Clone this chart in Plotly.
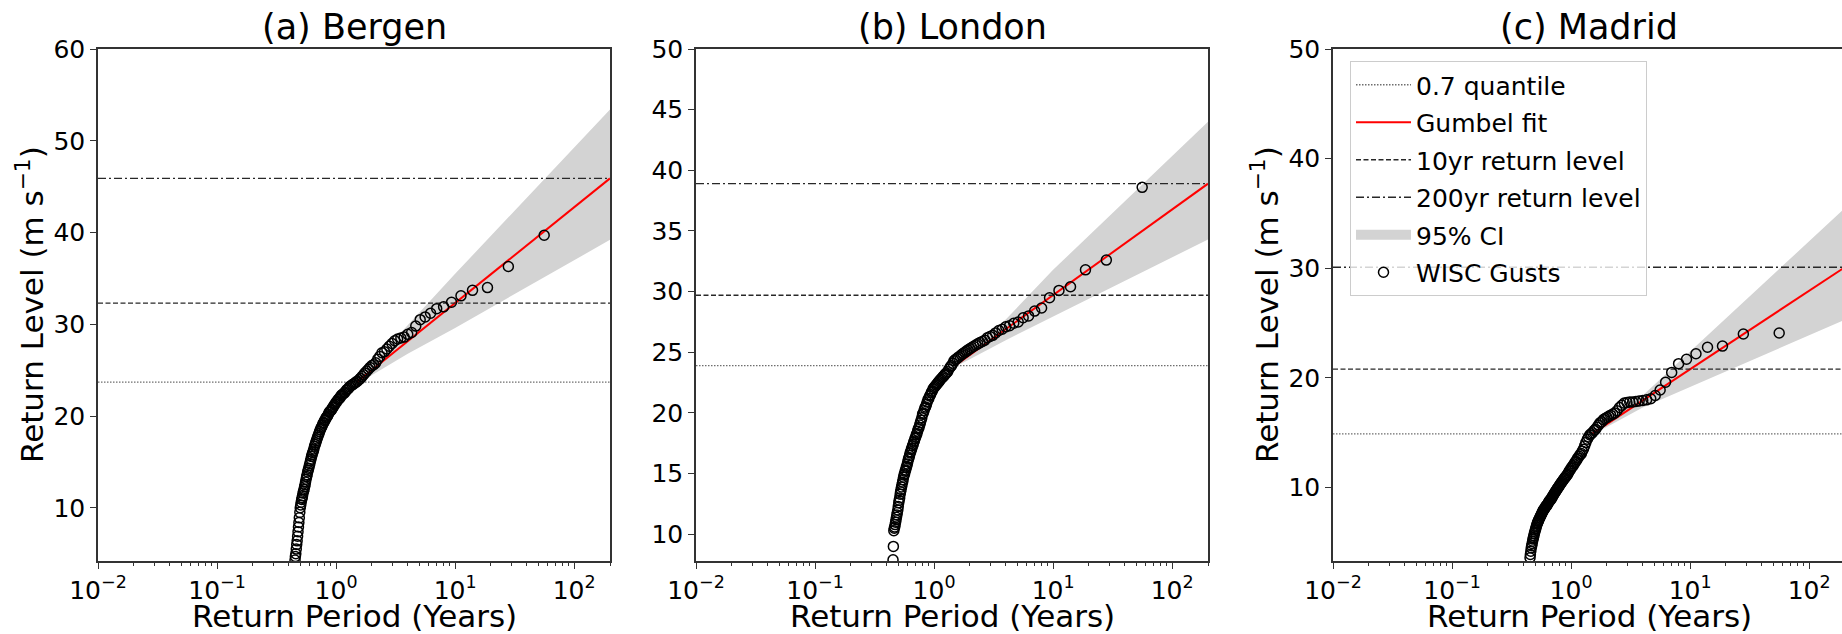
import plotly.graph_objects as go

# ---------------- data ----------------
RETURN_PERIOD = [
    0.452, 0.455, 0.459, 0.463, 0.467, 0.471, 0.475, 0.479, 0.483, 0.487,
    0.491, 0.496, 0.500, 0.505, 0.509, 0.514, 0.519, 0.523, 0.528, 0.533,
    0.538, 0.544, 0.549, 0.554, 0.560, 0.566, 0.571, 0.577, 0.583, 0.589,
    0.596, 0.602, 0.609, 0.615, 0.622, 0.629, 0.636, 0.644, 0.651, 0.659,
    0.667, 0.675, 0.683, 0.691, 0.700, 0.709, 0.718, 0.727, 0.737, 0.747,
    0.757, 0.767, 0.778, 0.789, 0.800, 0.812, 0.824, 0.836, 0.848, 0.862,
    0.875, 0.889, 0.903, 0.918, 0.933, 0.949, 0.966, 0.982, 1.00, 1.02,
    1.04, 1.06, 1.08, 1.10, 1.12, 1.14, 1.17, 1.19, 1.22, 1.24,
    1.27, 1.30, 1.33, 1.37, 1.40, 1.44, 1.47, 1.51, 1.56, 1.60,
    1.65, 1.70, 1.75, 1.81, 1.87, 1.93, 2.00, 2.07, 2.15, 2.24,
    2.33, 2.43, 2.55, 2.67, 2.80, 2.95, 3.11, 3.29, 3.50, 3.73,
    4.00, 4.31, 4.67, 5.09, 5.60, 6.22, 7.00, 8.00, 9.33, 11.2,
    14.0, 18.7, 28.0, 56.0,
]

BERGEN_GUSTS = [
    4.3, 4.7, 5.0, 5.5, 6.0, 6.4, 6.9, 7.4, 7.9, 8.4,
    8.9, 9.5, 10.0, 10.3, 10.6, 10.9, 11.1, 11.3, 11.6, 11.8,
    12.0, 12.3, 12.5, 12.8, 13.1, 13.4, 13.6, 13.9, 14.1, 14.3,
    14.6, 14.8, 15.1, 15.3, 15.6, 15.8, 16.0, 16.2, 16.4, 16.7,
    16.9, 17.1, 17.3, 17.5, 17.7, 17.9, 18.1, 18.3, 18.5, 18.7,
    18.8, 19.0, 19.2, 19.3, 19.5, 19.6, 19.8, 19.9, 20.0, 20.2,
    20.4, 20.5, 20.6, 20.7, 20.9, 21.0, 21.2, 21.3, 21.5, 21.6,
    21.8, 21.9, 22.0, 22.2, 22.3, 22.4, 22.5, 22.6, 22.8, 22.9,
    23.0, 23.2, 23.3, 23.4, 23.5, 23.6, 23.7, 23.8, 23.95, 24.1,
    24.3, 24.5, 24.7, 24.9, 25.1, 25.3, 25.5, 25.6, 25.8, 26.2,
    26.5, 26.9, 27.0, 27.3, 27.6, 27.9, 28.2, 28.4, 28.5, 28.6,
    28.9, 29.1, 29.8, 30.5, 30.8, 31.2, 31.7, 31.9, 32.4, 33.1,
    33.7, 34.0, 36.3, 39.7,
]

LONDON_GUSTS = [
    7.9, 9.0, 10.3, 10.5, 10.6, 10.8, 11.0, 11.2, 11.4, 11.6,
    11.8, 12.0, 12.3, 12.6, 12.8, 13.0, 13.3, 13.5, 13.7, 13.9,
    14.1, 14.3, 14.5, 14.7, 14.9, 15.0, 15.2, 15.3, 15.5, 15.6,
    15.8, 16.0, 16.2, 16.3, 16.5, 16.7, 16.8, 17.0, 17.1, 17.3,
    17.4, 17.6, 17.7, 17.9, 18.0, 18.2, 18.3, 18.5, 18.7, 18.8,
    19.0, 19.2, 19.4, 19.6, 19.9, 20.0, 20.2, 20.4, 20.5, 20.7,
    20.9, 21.1, 21.2, 21.4, 21.5, 21.7, 21.8, 22.0, 22.1, 22.2,
    22.3, 22.4, 22.5, 22.6, 22.7, 22.8, 22.9, 23.0, 23.1, 23.2,
    23.3, 23.4, 23.6, 23.8, 23.9, 24.1, 24.3, 24.4, 24.5, 24.6,
    24.7, 24.8, 24.9, 25.0, 25.1, 25.2, 25.3, 25.4, 25.5, 25.6,
    25.7, 25.8, 25.9, 26.0, 26.2, 26.3, 26.4, 26.6, 26.8, 26.9,
    27.1, 27.2, 27.4, 27.5, 27.85, 28.0, 28.4, 28.65, 29.5, 30.1,
    30.4, 31.8, 32.6, 38.6,
]

MADRID_GUSTS = [
    3.6, 3.9, 4.2, 4.5, 4.7, 4.9, 5.1, 5.3, 5.45, 5.6,
    5.8, 5.95, 6.1, 6.25, 6.4, 6.55, 6.7, 6.8, 6.9, 7.0,
    7.1, 7.2, 7.3, 7.4, 7.5, 7.6, 7.7, 7.8, 7.9, 8.0,
    8.05, 8.1, 8.2, 8.3, 8.35, 8.4, 8.5, 8.6, 8.7, 8.8,
    8.85, 8.9, 9.0, 9.1, 9.2, 9.3, 9.4, 9.5, 9.6, 9.7,
    9.8, 9.9, 10.0, 10.1, 10.2, 10.3, 10.4, 10.5, 10.6, 10.7,
    10.8, 10.9, 11.0, 11.1, 11.2, 11.35, 11.5, 11.6, 11.75, 11.9,
    12.0, 12.15, 12.3, 12.4, 12.55, 12.7, 12.85, 13.0, 13.1, 13.3,
    13.5, 13.8, 14.1, 14.4, 14.6, 14.8, 14.9, 15.0, 15.2, 15.3,
    15.5, 15.7, 15.9, 16.0, 16.2, 16.3, 16.4, 16.5, 16.6, 16.7,
    16.8, 17.0, 17.3, 17.5, 17.7, 17.75, 17.8, 17.8, 17.85, 17.9,
    17.95, 18.0, 18.1, 18.4, 18.9, 19.6, 20.5, 21.3, 21.7, 22.2,
    22.8, 22.9, 24.0, 24.1,
]

PANEL_TITLES = ["(a) Bergen", "(b) London", "(c) Madrid"]
GUSTS = [BERGEN_GUSTS, LONDON_GUSTS, MADRID_GUSTS]
QUANTILE_07 = [23.7, 23.9, 14.9]
RETURN_LEVEL_10YR = [32.3, 29.7, 20.8]
RETURN_LEVEL_200YR = [45.9, 38.9, 30.1]

FIT_PERIOD = [1.5, 10, 200]
GUMBEL_FIT = [[23.7, 32.3, 45.9], [23.9, 29.7, 38.9], [14.9, 20.8, 30.1]]

CI_PERIOD = [1.5, 4, 10, 200]
CI_UPPER = [[23.9, 29.9, 35.5, 53.4], [24.0, 27.7, 31.8, 44.0], [15.1, 18.4, 22.4, 35.5]]
CI_LOWER = [[23.5, 26.8, 29.6, 39.2], [23.8, 26.0, 27.9, 34.3], [14.8, 17.3, 19.2, 25.3]]

X_LIMITS = [0.01, 200]
Y_LIMITS = [[4.2, 60], [7.8, 50], [3.3, 50]]
Y_TICKS = [[10, 20, 30, 40, 50, 60], [10, 15, 20, 25, 30, 35, 40, 45, 50], [10, 20, 30, 40, 50]]
X_TICKS = [0.01, 0.1, 1, 10, 100]
X_TICK_TEXT = ["10<sup>\u22122</sup>", "10<sup>\u22121</sup>", "10<sup>0</sup>",
               "10<sup>1</sup>", "10<sup>2</sup>"]
X_MINOR = [m * 10 ** e for e in range(-2, 3) for m in range(2, 10) if m * 10 ** e <= 200]

# ---------------- layout geometry (pixels) ----------------
W, H = 1842, 634
PANEL_X = [(98, 610), (696, 1208), (1333, 1842)]
TOP, BOTTOM = 49, 561
DECADE_PX = 512 / 4.30103
FONT = "DejaVu Sans"
CI_COLOR = "rgb(211,211,211)"


def px(x):
    return x / W


def py(y):
    return 1 - y / H


fig = go.Figure()
annotations = []

for i in range(3):
    ax = "" if i == 0 else str(i + 1)
    xref, yref = "x" + ax, "y" + ax
    show = i == 2

    # 95% CI band
    fig.add_trace(go.Scatter(
        x=CI_PERIOD + CI_PERIOD[::-1], y=CI_UPPER[i] + CI_LOWER[i][::-1],
        fill="toself", fillcolor=CI_COLOR, line=dict(width=0),
        mode="lines", name="95% CI", showlegend=False,
        xaxis=xref, yaxis=yref, hoverinfo="skip"))
    # 0.7 quantile
    fig.add_trace(go.Scatter(
        x=X_LIMITS, y=[QUANTILE_07[i]] * 2, mode="lines",
        line=dict(color="rgb(110,110,110)", width=1.3, dash="1.5px,1.5px"),
        name="0.7 quantile", showlegend=show, legendrank=1, legendgroup="g1",
        xaxis=xref, yaxis=yref))
    # Gumbel fit
    fig.add_trace(go.Scatter(
        x=FIT_PERIOD, y=GUMBEL_FIT[i], mode="lines",
        line=dict(color="red", width=2),
        name="Gumbel fit", showlegend=show, legendrank=2, legendgroup="g2",
        xaxis=xref, yaxis=yref))
    # 10yr return level
    fig.add_trace(go.Scatter(
        x=X_LIMITS, y=[RETURN_LEVEL_10YR[i]] * 2, mode="lines",
        line=dict(color="rgb(40,40,40)", width=1.4, dash="5px,2.5px"),
        name="10yr return level", showlegend=show, legendrank=3, legendgroup="g3",
        xaxis=xref, yaxis=yref))
    # 200yr return level
    fig.add_trace(go.Scatter(
        x=X_LIMITS, y=[RETURN_LEVEL_200YR[i]] * 2, mode="lines",
        line=dict(color="rgb(40,40,40)", width=1.4, dash="8px,3px,2px,3px"),
        name="200yr return level", showlegend=show, legendrank=4, legendgroup="g4",
        xaxis=xref, yaxis=yref))
    # legend entry for the CI band (thick swatch)
    if show:
        fig.add_trace(go.Scatter(
            x=[None], y=[None], mode="lines",
            line=dict(color=CI_COLOR, width=18),
            name="95% CI", showlegend=True, legendrank=5, legendgroup="g5",
            xaxis=xref, yaxis=yref))
    # WISC gusts
    fig.add_trace(go.Scatter(
        x=RETURN_PERIOD, y=GUSTS[i], mode="markers",
        marker=dict(symbol="circle-open", size=10, color="black",
                    line=dict(width=1.5, color="black")),
        name="WISC Gusts", showlegend=show, legendrank=6, legendgroup="g6",
        xaxis=xref, yaxis=yref))

    x0, x1 = PANEL_X[i]
    xmax_log = -2 + (x1 - x0) / DECADE_PX
    axis_common = dict(
        showline=True, mirror=True, linecolor="#333", linewidth=1.5,
        ticks="outside", ticklen=6, tickwidth=1.3, tickcolor="#333",
        showgrid=False, zeroline=False, automargin=False,
        tickfont=dict(family=FONT, size=25, color="black"),
    )
    fig.update_layout(**{
        "xaxis" + ax: dict(
            type="log", range=[-2, xmax_log], domain=[px(x0), px(x1)],
            anchor=yref, tickmode="array", tickvals=X_TICKS, ticktext=X_TICK_TEXT,
            minor=dict(tickmode="array", tickvals=X_MINOR, ticks="outside",
                       ticklen=3.5, tickwidth=1, tickcolor="#333", showgrid=False),
            **axis_common),
        "yaxis" + ax: dict(
            range=Y_LIMITS[i], domain=[py(BOTTOM), py(TOP)], anchor=xref,
            tickmode="array", tickvals=Y_TICKS[i], **axis_common),
    })

    cx = (x0 + x0 + 4.30103 * DECADE_PX) / 2
    annotations.append(dict(
        text=PANEL_TITLES[i], x=px(cx), y=py(27), xref="paper", yref="paper",
        xanchor="center", yanchor="middle", showarrow=False,
        font=dict(family=FONT, size=35, color="black")))
    annotations.append(dict(
        text="Return Period (Years)", x=px(cx), y=py(616), xref="paper", yref="paper",
        xanchor="center", yanchor="middle", showarrow=False,
        font=dict(family=FONT, size=31, color="black")))
    if i != 1:
        annotations.append(dict(
            text="Return Level (m s<sup>\u22121</sup>)", x=px(x0 - 68),
            y=py((TOP + BOTTOM) / 2), xref="paper", yref="paper",
            xanchor="center", yanchor="middle", textangle=-90, showarrow=False,
            font=dict(family=FONT, size=31, color="black")))

fig.update_layout(
    template="none",
    width=W, height=H, autosize=False,
    margin=dict(l=0, r=0, t=0, b=0, pad=0),
    paper_bgcolor="white", plot_bgcolor="white",
    font=dict(family=FONT, color="black"),
    annotations=annotations,
    legend=dict(
        x=px(1350), y=py(61), xanchor="left", yanchor="top",
        bgcolor="rgba(255,255,255,0.8)", bordercolor="#cccccc", borderwidth=1,
        font=dict(family=FONT, size=25, color="black"),
        traceorder="grouped", tracegroupgap=2, itemwidth=55,
    ),
)

fig.write_html("out.html")
